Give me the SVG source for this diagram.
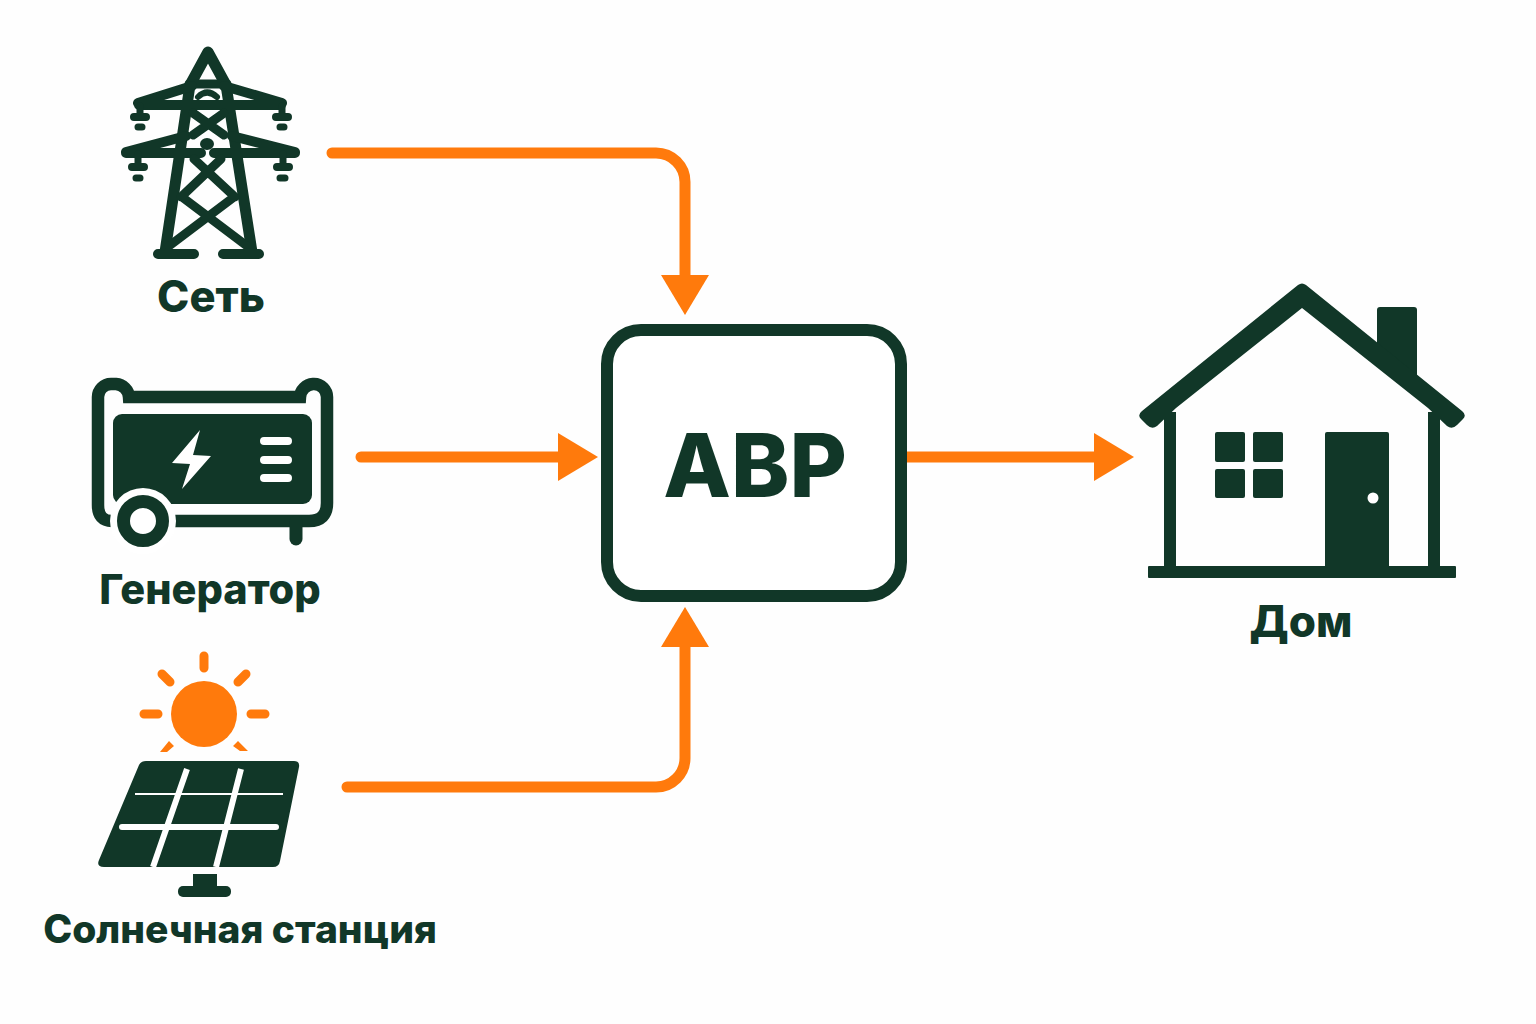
<svg xmlns="http://www.w3.org/2000/svg" width="1536" height="1024" viewBox="0 0 1536 1024">
<style>
.d{fill:#113728}
.s{fill:none;stroke:#113728;stroke-linecap:round;stroke-linejoin:round}
.o{fill:#ff7a0c}
.r{fill:none;stroke:#ff7a0c;stroke-width:9;stroke-linecap:round}
.w{fill:#fff}
.c{fill:none;stroke:#ff7a0c;stroke-width:11;stroke-linecap:round}
text{font-family:Inter,"Liberation Sans",sans-serif;font-weight:800;fill:#113728;text-anchor:middle}
</style>
<defs>
<marker id="arrow" markerUnits="userSpaceOnUse" markerWidth="42" markerHeight="50" refX="1" refY="25" orient="auto">
<path d="M1 1L41 25L1 49Z" fill="#ff7a0c"/>
</marker>
</defs>
<rect width="1536" height="1024" fill="#fefefe"/>
<g id="connectors">
<path class="c" d="M332 153H656A29 29 0 0 1 685 182V275" marker-end="url(#arrow)"/>
<path class="c" d="M361 457H558" marker-end="url(#arrow)"/>
<path class="c" d="M347 787H656A29 29 0 0 0 685 758V647" marker-end="url(#arrow)"/>
<path d="M907 457H1094" class="c" style="stroke-linecap:butt" marker-end="url(#arrow)"/>
</g>
<g id="grid">
<path class="s" stroke-width="11" d="M165 252L190 85L208 52L226 85L252 252"/>
<path class="s" stroke-width="9" d="M189 84H227"/>
<path class="s" stroke-width="10" d="M139 105H281M138 103L192 86M282 103L224 86M126 153H201M214 153H295M126 152L186 136M295 152L232 136"/>
<path class="s" stroke-width="9" d="M193 113L224 135M224 113L193 135M194 159L235 197M221 159L181 197M182 197L247 246M234 197L169 246"/>
<path class="s" stroke-width="10" d="M158 254H194M223 254H259"/>
<path class="s" stroke-width="7" d="M140 106V116M282 106V116M138 154V166M283 154V166"/>
<path class="s" stroke-width="8" d="M134 117H146M276 117H288M132 167H144M277 167H289"/>
<path class="s" stroke-width="7" d="M138 127H142M280 127H284M136 178H140M280 178H285"/>
<path class="s" stroke-width="6" d="M198 97Q207 88 217 97"/>
<ellipse class="d" cx="207" cy="144" rx="7" ry="6"/>
<text x="211" y="312" font-size="43.5">Сеть</text>
</g>
<g id="generator">
<path fill="none" stroke="#113728" stroke-width="12.5" d="M112 521Q98 521 98 505V397A13 13 0 0 1 111 384H116A14 14 0 0 1 129 397H300A14 14 0 0 1 313 384H314A13 13 0 0 1 327 397V503Q327 521 309 521H175"/>
<rect class="d" x="113" y="414" width="199" height="90" rx="9"/>
<path class="s" stroke-width="13" d="M296 522V539"/>
<circle class="w" cx="143" cy="521" r="33"/>
<circle cx="143" cy="521" r="19.5" fill="none" stroke="#113728" stroke-width="13"/>
<path class="w" d="M200 430L172 463L190 464L182 489L211 456L193 455Z"/>
<path d="M264 441H288M264 460H288M264 478H288" stroke="#fff" stroke-width="8" stroke-linecap="round"/>
<text x="210" y="604" font-size="41.5">Генератор</text>
</g>
<g id="solar">
<circle class="o" cx="204" cy="714" r="33"/>
<path class="r" d="M204 656V668M144 714H158M251 714H265M162 674L170 682M246 674L238 682"/>
<path class="o" d="M169 741L174 746L167 752H160ZM238 741L233 746L240 751L248 751Z"/>
<path class="d" d="M146 761H294Q300 761 299 767L280 861Q279 867 273 867H104Q96 867 99 860L139 765Q141 761 146 761Z"/>
<path d="M187 769L153 867M241 769L216 867" stroke="#fff" stroke-width="6"/>
<path d="M135 794H283" stroke="#fff" stroke-width="2"/>
<path d="M122 827H276" stroke="#fff" stroke-width="6" stroke-linecap="round"/>
<rect class="d" x="193" y="874" width="24" height="16"/>
<rect class="d" x="178" y="886" width="53" height="11" rx="5"/>
<text x="240" y="943" font-size="39">Солнечная станция</text>
</g>
<g id="avr">
<rect x="607" y="330" width="294" height="266" rx="34" fill="#fff" stroke="#113728" stroke-width="12"/>
<text x="755" y="497" font-size="88">АВР</text>
</g>
<g id="house">
<path class="d" d="M1380 307H1414Q1417 307 1417 310V380L1377 350V310Q1377 307 1380 307Z"/>
<path class="d" d="M1298 285Q1302 282 1306 285L1462 411Q1467 415 1463 419L1457 425Q1452 430 1447 426L1428 408L1302 308L1176 408L1157 426Q1152 430 1147 425L1141 419Q1137 415 1142 411Z"/>
<path class="d" d="M1164 412H1176V570H1164ZM1428 412H1440V570H1428Z"/>
<rect class="d" x="1148" y="566" width="308" height="12" rx="1"/>
<rect class="d" x="1215" y="432" width="30" height="30" rx="2"/>
<rect class="d" x="1253" y="432" width="30" height="30" rx="2"/>
<rect class="d" x="1215" y="469" width="30" height="29" rx="2"/>
<rect class="d" x="1253" y="469" width="30" height="29" rx="2"/>
<rect class="d" x="1325" y="432" width="64" height="136" rx="2"/>
<circle class="w" cx="1373" cy="498" r="5.5"/>
<text x="1301" y="637" font-size="44">Дом</text>
</g>
</svg>
